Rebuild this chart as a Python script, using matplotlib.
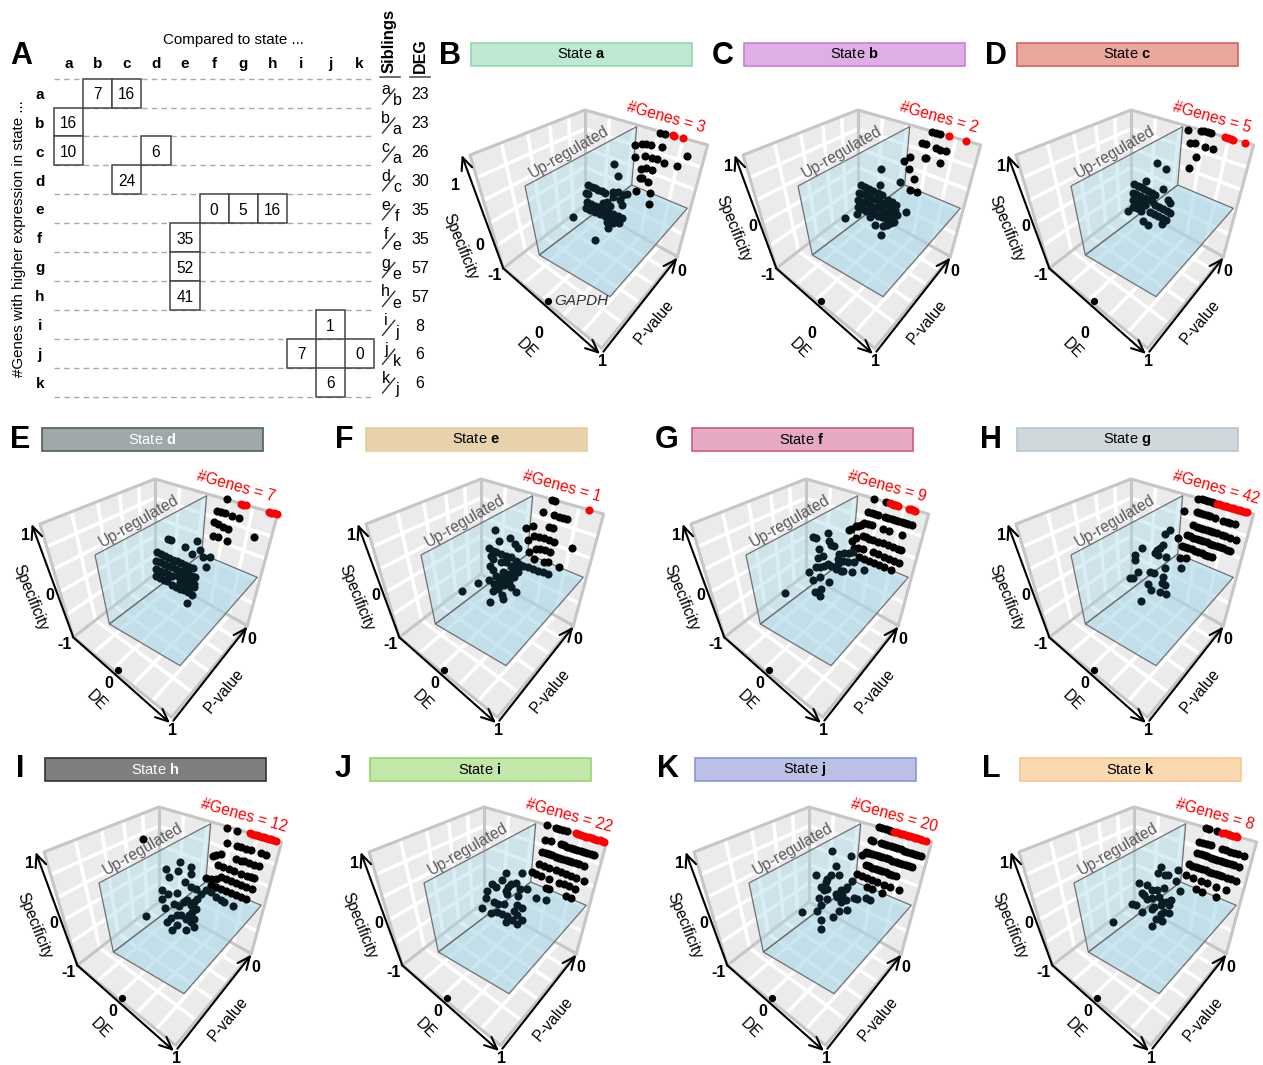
#!/usr/bin/env python3
"""Sibling-state DE table plus the eleven DE / P-value / Specificity cubes."""

import numpy as np

import matplotlib
matplotlib.use("Agg")
import matplotlib.pyplot as plt  # noqa: E402
from matplotlib.patches import Polygon, Rectangle  # noqa: E402

plt.rcParams["font.family"] = ["Liberation Sans", "DejaVu Sans"]
plt.rcParams["mathtext.fontset"] = "custom"
plt.rcParams["mathtext.rm"] = "Liberation Sans"
plt.rcParams["mathtext.bf"] = "Liberation Sans:bold"

W, H = 1263, 1065

# panel A
STATES = list("abcdefghijk")
CELL_ROW = list("aabccdeeefghijjk")
CELL_COL = list("bcaadcfgheeejikj")
CELL_VAL = [7, 16, 16, 10, 6, 24, 0, 5, 16, 35, 52, 41, 1, 7, 0, 6]
SIB_TOP = STATES
SIB_BOTTOM = list("baacfeeejkj")
DEG = [23, 23, 26, 30, 35, 35, 57, 57, 8, 6, 6]

# cube panels: points are read in panel view units (3 units = 1 pixel).
# rows sit on the P-value = 0 wall: (height of the row at x=600, [x of each gene])
GENES = [3, 2, 5, 7, 1, 9, 42, 12, 22, 20, 8]
LETTERS = list("BCDEFGHIJKL")
BAR_FACE = ["#bfe8d2", "#dfaee6", "#e9a79d", "#9ea8a8", "#e8d2ab", "#e5a9c3",
            "#cfd8db", "#7f7f7f", "#c3e7a8", "#bcc0e4", "#fbd8ae"]
BAR_EDGE = ["#93d6b0", "#c67fd6", "#d8625a", "#4d6060", "#e3cd9f", "#d4587f",
            "#b5c8ce", "#333333", "#93d66e", "#8b95d8", "#f6c88f"]
BAR_TEXT = ["black", "black", "black", "white", "black", "black",
            "black", "white", "black", "black", "black"]

RED_A = [698, 703, 730]
RED_B = [708, 760]
RED_C = [718, 726, 734, 742, 776]
RED_D = [693, 700, 708, 776, 784, 792, 800]
RED_E = [760]
RED_F = [688, 694, 700, 706, 712, 744, 750, 757, 763]
RED_G = [692, 699, 706, 713, 720, 727, 734, 741, 748, 755, 762, 769, 776, 782]
RED_H = [708, 715, 722, 729, 736, 743, 750, 757, 764, 771, 778, 785]
RED_I = [710, 718, 726, 734, 742, 750, 758, 766, 774, 782, 790, 795]
RED_J = [690, 697, 704, 711, 718, 725, 732, 739, 746, 753, 760, 767, 774, 785]
RED_K = [700, 708, 716, 724, 732, 740, 745]

ROWS_A = []
ROWS_B = []
ROWS_C = []
ROWS_D = []
ROWS_E = []
ROWS_F = [(152, [622, 632, 642, 652, 672, 682, 692, 702, 712, 722, 732, 742, 752]),
          (188, [610, 622, 634, 665, 685, 722]),
          (230, [605, 615, 625, 635, 650, 665, 680, 695, 710, 720]),
          (267, [605, 635, 650, 670, 685, 700, 715]),
          (297, [595, 610, 625, 640, 655, 670, 690])]
ROWS_G = [(108, [637, 647, 657, 667, 677, 685]),
          (150, [632, 642, 652, 662, 672, 687, 712, 722, 732, 747]),
          (192, [622, 632, 642, 652, 662, 672, 682, 692, 707, 717, 732, 750]),
          (228, [602, 612, 622, 632, 642, 652, 662, 672, 682, 692, 702, 712, 722, 732]),
          (265, [587, 597, 607, 617, 627, 637, 647, 657, 667, 677])]
ROWS_H = [(155, [640, 668, 680, 695, 710, 740, 755]),
          (193, [665, 682, 690, 705, 720, 735]),
          (231, [612, 628, 645, 660, 680, 700, 710, 720]),
          (263, [620, 635, 650, 665, 680, 695, 715]),
          (297, [590, 605, 620, 635, 650, 665, 680, 695])]
ROWS_I = [(108, [625, 650, 660, 672, 685]),
          (152, [618, 635, 665, 675, 685, 695, 705, 715, 725, 735, 745, 755, 765]),
          (192, [610, 620, 630, 640, 650, 660, 670, 680, 690, 700, 710, 720, 735]),
          (232, [600, 615, 630, 650, 665, 680, 695, 710, 735]),
          (264, [580, 590, 605, 630, 660, 675, 690, 708]),
          (295, [620, 630, 682, 695])]
ROWS_J = [(108, [645, 655, 665, 675, 682]),
          (153, [622, 628, 650, 660, 670, 680, 690, 700, 710, 720, 730, 740, 750, 760, 770]),
          (192, [605, 615, 625, 635, 645, 655, 665, 675, 685, 695, 705, 715, 725, 735, 745]),
          (233, [605, 615, 625, 635, 645, 655, 665, 675, 685, 695]),
          (270, [580, 595, 610, 625, 640, 660, 677, 705]),
          (297, [610, 625, 655])]
ROWS_K = [(108, [650, 660, 685]),
          (155, [630, 642, 655, 665, 700, 712, 724, 736, 748, 765]),
          (190, [625, 635, 645, 655, 665, 675, 685, 695, 705, 715, 725, 735, 750]),
          (232, [600, 610, 620, 630, 640, 650, 660, 670, 680, 690, 700, 715, 725]),
          (268, [590, 612, 635, 655, 680, 710]),
          (298, [622, 640, 680])]

BLACK_A = [(660, 128), (675, 132), (585, 165), (605, 163), (618, 162), (632, 165),
           (665, 172), (586, 202), (615, 198), (635, 205), (650, 208), (672, 218),
           (710, 228), (740, 197), (602, 236), (618, 235), (636, 240), (600, 265),
           (605, 265), (625, 275), (588, 303), (630, 310), (627, 341)]
BLACK_B = [(658, 125), (670, 129), (682, 133), (628, 160), (640, 163), (668, 175),
           (682, 180), (698, 184), (635, 204), (640, 205), (680, 218), (590, 200),
           (588, 237), (602, 268), (592, 300), (612, 305), (572, 212)]
BLACK_C = [(607, 120), (645, 122), (655, 124), (665, 127), (675, 130), (612, 158),
           (628, 158), (658, 170), (680, 178), (630, 201), (608, 233)]
BLACK_D = [(650, 121), (622, 155), (632, 158), (645, 163), (665, 170), (688, 178),
           (612, 190), (625, 196), (640, 203), (655, 209), (610, 230), (623, 235),
           (652, 245), (731, 234)]
BLACK_E = [(648, 122), (658, 125), (620, 158), (655, 167), (670, 173), (682, 177),
           (692, 181), (638, 203), (650, 207), (592, 202), (570, 208), (595, 232),
           (610, 235), (625, 237), (640, 243), (655, 250), (575, 244), (600, 270),
           (612, 270), (628, 273), (642, 280), (580, 278), (708, 267), (595, 300),
           (625, 308), (635, 310), (670, 323)]
BLACK_F = [(640, 120), (676, 130), (585, 202), (590, 200), (600, 198), (570, 210),
           (565, 213), (585, 236), (572, 247), (580, 268), (590, 268)]
BLACK_G = [(594, 156), (577, 236), (582, 298), (600, 298)]
BLACK_H = [(640, 123), (670, 131), (388, 155), (598, 207), (605, 203), (620, 200),
           (575, 272), (590, 275), (605, 275)]
BLACK_I = []
BLACK_J = [(595, 205), (610, 197)]
BLACK_K = [(740, 283)]

CLOUD_A = [(523, 223), (533, 257), (400, 382), (466, 450), (503, 414), (445, 285),
           (455, 290), (465, 294), (475, 299), (485, 303), (495, 308), (438, 308),
           (445, 312), (520, 305), (535, 305), (550, 315), (560, 312), (520, 322),
           (540, 330), (545, 345), (500, 335), (490, 340), (510, 348), (440, 337),
           (452, 342), (465, 347), (478, 352), (490, 358), (505, 365), (520, 372),
           (535, 378), (545, 385), (438, 355), (450, 360), (465, 365), (480, 372),
           (495, 378), (510, 385), (525, 392), (538, 398), (500, 395), (520, 400),
           (525, 385), (510, 395)]
CLOUD_B = [(504, 238), (562, 276), (502, 285), (396, 385), (578, 365), (505, 435),
           (432, 372), (445, 285), (457, 291), (469, 297), (481, 302), (495, 308),
           (507, 314), (438, 308), (450, 313), (462, 318), (474, 323), (486, 328),
           (498, 333), (510, 338), (522, 343), (436, 330), (448, 335), (460, 340),
           (472, 345), (484, 350), (496, 355), (508, 360), (520, 365), (532, 370),
           (544, 375), (435, 352), (447, 357), (459, 362), (471, 367), (483, 372),
           (495, 377), (507, 382), (519, 387), (531, 392), (543, 397), (525, 330),
           (538, 335), (550, 345), (530, 350), (545, 360), (552, 375), (487, 405),
           (510, 408), (522, 405), (535, 400), (470, 380)]
CLOUD_C = [(513, 218), (541, 236), (481, 274), (530, 297), (445, 283), (455, 288),
           (465, 292), (475, 296), (487, 303), (497, 309), (507, 315), (440, 308),
           (450, 312), (462, 318), (474, 323), (486, 328), (498, 333), (440, 330),
           (452, 335), (464, 340), (476, 345), (440, 350), (452, 355), (464, 362),
           (425, 362), (507, 345), (519, 350), (531, 356), (543, 362), (552, 370),
           (492, 366), (504, 372), (516, 378), (528, 384), (540, 390), (545, 330),
           (552, 338), (470, 392), (487, 405), (527, 402)]
CLOUD_D = [(475, 240), (482, 243), (560, 247), (525, 264), (545, 284), (570, 272),
           (578, 295), (600, 294), (588, 324), (530, 433), (440, 280), (452, 286),
           (464, 291), (476, 296), (488, 302), (500, 307), (512, 313), (524, 318),
           (536, 323), (548, 328), (438, 305), (450, 310), (462, 315), (474, 320),
           (486, 325), (498, 330), (510, 335), (522, 340), (534, 345), (546, 350),
           (556, 355), (438, 330), (450, 335), (462, 340), (474, 345), (486, 350),
           (438, 352), (450, 357), (462, 362), (470, 365), (505, 350), (518, 355),
           (530, 362), (542, 368), (553, 375), (485, 378), (497, 384), (509, 389),
           (521, 394), (533, 400), (545, 408), (553, 385), (510, 370), (525, 378),
           (540, 388)]
CLOUD_E = [(478, 213), (522, 238), (490, 247), (536, 255), (546, 267), (378, 396),
           (425, 373), (461, 429), (498, 408), (500, 420), (460, 268), (470, 275),
           (480, 280), (495, 285), (510, 290), (525, 295), (540, 305), (550, 315),
           (465, 290), (470, 300), (463, 322), (472, 332), (495, 310), (510, 310),
           (525, 320), (480, 350), (490, 365), (500, 355), (515, 345), (530, 335),
           (545, 325), (560, 320), (575, 325), (590, 330), (605, 335), (620, 340),
           (635, 345), (458, 362), (475, 375), (490, 385), (505, 378), (520, 370),
           (535, 355), (545, 340), (470, 395), (485, 390), (525, 385), (540, 400),
           (500, 340), (515, 365), (525, 350)]
CLOUD_F = [(500, 222), (503, 245), (510, 258), (520, 262), (455, 235), (465, 238),
           (475, 270), (485, 290), (472, 297), (372, 402), (443, 338), (455, 362),
           (478, 355), (503, 370), (462, 400), (470, 398), (480, 390), (478, 412),
           (535, 285), (550, 283), (565, 283), (575, 280), (530, 300), (545, 305),
           (560, 310), (580, 310), (500, 315), (510, 320), (465, 325), (478, 325),
           (490, 322), (525, 330), (540, 335), (572, 340), (610, 332), (530, 315),
           (545, 335)]
CLOUD_G = [(552, 213), (537, 225), (469, 268), (530, 258), (522, 268), (512, 273),
           (507, 283), (517, 288), (540, 293), (447, 288), (447, 303), (585, 326),
           (537, 326), (457, 340), (442, 358), (432, 358), (492, 338), (504, 341),
           (532, 353), (527, 373), (537, 378), (485, 375), (495, 393), (522, 398),
           (540, 406), (466, 426)]
CLOUD_H = [(497, 225), (456, 245), (492, 252), (532, 240), (530, 260), (466, 270),
           (514, 284), (530, 300), (545, 305), (445, 310), (463, 320), (490, 317),
           (445, 335), (396, 388), (453, 362), (480, 352), (495, 358), (460, 405),
           (470, 392), (490, 415), (473, 428), (517, 428), (575, 310), (590, 315),
           (605, 330), (620, 340), (630, 345), (658, 356), (560, 320), (550, 335),
           (540, 345), (530, 355), (520, 340), (510, 345), (545, 365), (535, 375),
           (525, 385), (540, 395), (530, 405), (540, 420), (515, 395), (500, 385),
           (490, 385)]
CLOUD_I = [(502, 257), (550, 257), (490, 280), (530, 288), (515, 292), (508, 300),
           (500, 312), (505, 320), (460, 292), (470, 300), (445, 313), (440, 332),
           (465, 345), (478, 352), (495, 352), (430, 363), (455, 377), (475, 375),
           (490, 382), (505, 388), (525, 372), (535, 355), (548, 363), (535, 385),
           (548, 398), (535, 410), (500, 405), (520, 400), (537, 327), (543, 305),
           (563, 305), (592, 333), (620, 338)]
CLOUD_J = [(505, 193), (560, 208), (517, 238), (457, 265), (500, 263), (525, 265),
           (490, 275), (485, 285), (470, 300), (480, 310), (490, 305), (565, 283),
           (545, 305), (530, 310), (515, 320), (520, 330), (530, 345), (465, 333),
           (490, 335), (470, 355), (460, 372), (413, 376), (471, 400), (508, 390),
           (525, 372), (548, 370), (470, 427), (545, 340), (570, 333), (580, 335),
           (605, 332), (618, 338), (550, 300), (535, 325)]
CLOUD_K = [(517, 240), (507, 258), (527, 265), (537, 265), (568, 248), (560, 283),
           (450, 288), (475, 295), (490, 310), (505, 310), (525, 303), (573, 312),
           (460, 318), (465, 325), (475, 335), (490, 332), (510, 330), (428, 352),
           (440, 355), (460, 375), (490, 365), (495, 360), (515, 380), (525, 375),
           (540, 378), (530, 345), (515, 355), (520, 345), (545, 340), (540, 355),
           (500, 395), (518, 403), (488, 417), (372, 406)]

REDS = [RED_A, RED_B, RED_C, RED_D, RED_E, RED_F, RED_G, RED_H, RED_I, RED_J, RED_K]
ROWS = [ROWS_A, ROWS_B, ROWS_C, ROWS_D, ROWS_E, ROWS_F, ROWS_G, ROWS_H, ROWS_I, ROWS_J, ROWS_K]
BLACKS = [BLACK_A, BLACK_B, BLACK_C, BLACK_D, BLACK_E, BLACK_F, BLACK_G, BLACK_H,
          BLACK_I, BLACK_J, BLACK_K]
CLOUDS = [CLOUD_A, CLOUD_B, CLOUD_C, CLOUD_D, CLOUD_E, CLOUD_F, CLOUD_G, CLOUD_H,
          CLOUD_I, CLOUD_J, CLOUD_K]

GAPDH = (324, 632)

# page position of each panel's view and of its title bar (pixels)
VIEW_ORIGIN = [(440, 90), (713, 90), (986, 90), (10, 459), (336, 459), (661, 459),
               (986, 459), (14, 787), (339, 787), (664, 787), (989, 787)]
BAR_ORIGIN = [(471, 43), (744, 43), (1017, 43), (42, 428), (366, 428), (692, 428),
              (1017, 428), (45, 758), (370, 758), (695, 758), (1020, 758)]
LETTER_POS = [(450, 56), (723, 56), (996, 56), (20, 440), (344, 440), (667, 440),
              (991, 440), (20, 769), (343, 769), (668, 769), (991, 769)]
# the axis labels were placed by hand per row in the source figure
SPEC_Y = [(285, 465, 470)] + [(230, 410, 417)] * 10
DE_Y = [(730, 775)] * 3 + [(673, 723)] * 8

# cube corners in view units
C_LEFT = np.array([190, 535.0])
C_LEFT_TOP = np.array([90, 195.0])
C_BACK = np.array([435, 345.0])
C_BACK_TOP = np.array([435, 60.0])
C_RIGHT = np.array([712, 500.0])
C_RIGHT_TOP = np.array([803, 165.0])
C_FRONT = np.array([485, 775.0])

PLANE_WALL = [(255, 288), (590, 110), (575, 285), (298, 495)]
PLANE_FLOOR = [(298, 495), (575, 285), (742, 355), (510, 620)]

DOT = 34


def warp(t, a=1.5):
    # perspective spacing of the grid receding from the viewer
    return t * a / (1 + (a - 1) * t)


def face(c00, c10, c01, c11, u, v):
    return (1 - v) * ((1 - u) * c00 + u * c10) + v * ((1 - u) * c01 + u * c11)


def row_points(rows):
    pts = []
    for y600, xs in rows:
        slope = 0.285 + 0.0006 * (y600 - 107)
        pts += [(x, y600 + slope * (x - 600)) for x in xs]
    return pts


def draw_cube(ax):
    walls = [(C_LEFT, C_BACK, C_LEFT_TOP, C_BACK_TOP),
             (C_BACK, C_RIGHT, C_BACK_TOP, C_RIGHT_TOP),
             (C_LEFT, C_BACK, C_FRONT, C_RIGHT)]
    for a, b, c, d in walls:
        ax.add_patch(Polygon([a, b, d, c], fc="#ebebeb", ec="none", zorder=1))
    ticks = [0.2, 0.4, 0.6, 0.8]
    grid_kw = dict(color="white", lw=2.6, zorder=2, solid_capstyle="butt")
    for t in ticks:
        # left wall
        p = warp(t)
        q = [face(*walls[0], p, 0), face(*walls[0], p, 1)]
        ax.plot(*zip(*q), **grid_kw)
        q = [face(*walls[0], 0, t), face(*walls[0], 1, t)]
        ax.plot(*zip(*q), **grid_kw)
        # right wall
        q = [face(*walls[1], t, 0), face(*walls[1], t, 1)]
        ax.plot(*zip(*q), **grid_kw)
        q = [face(*walls[1], 0, t), face(*walls[1], 1, t)]
        ax.plot(*zip(*q), **grid_kw)
        # floor
        q = [face(*walls[2], p, 0), face(*walls[2], p, 1)]
        ax.plot(*zip(*q), **grid_kw)
        q = [face(*walls[2], 0, t), face(*walls[2], 1, t)]
        ax.plot(*zip(*q), **grid_kw)
    border = [C_LEFT, C_LEFT_TOP, C_BACK_TOP, C_RIGHT_TOP, C_RIGHT, C_FRONT, C_LEFT]
    ax.plot(*zip(*border), color="#c6c6c6", lw=2.2, zorder=3)
    for a, b in [(C_BACK, C_BACK_TOP), (C_BACK, C_LEFT), (C_BACK, C_RIGHT)]:
        ax.plot([a[0], b[0]], [a[1], b[1]], color="#c6c6c6", lw=2.2, zorder=3)
    ax.add_patch(Polygon(PLANE_WALL, fc="#a8d7e9", alpha=0.42, ec="none", zorder=4))
    ax.add_patch(Polygon(PLANE_WALL, fc="none", ec="#707070", lw=0.9, zorder=5))
    ax.add_patch(Polygon(PLANE_FLOOR, fc="#a8d7e9", alpha=0.62, ec="none", zorder=4))
    ax.add_patch(Polygon(PLANE_FLOOR, fc="none", ec="#707070", lw=0.9, zorder=5))


def draw_axes_marks(ax, i):
    head = "->,head_length=0.9,head_width=0.4"
    for a, b in [((190, 535), (65, 195)), ((190, 535), (480, 792)), ((490, 785), (712, 503))]:
        ax.annotate("", xy=b, xytext=a, zorder=8,
                    arrowprops=dict(arrowstyle=head, color="black", lw=1.5,
                                    shrinkA=0, shrinkB=0))
    spec_1, spec_0, spec_lab = SPEC_Y[i]
    de_0, de_lab = DE_Y[i]
    kw = dict(fontsize=11.5, fontweight="bold", ha="center", va="center", zorder=9)
    for x, y, s in [(47, spec_1, "1"), (118, spec_0, "0"), (163, 557, "-1"),
                    (296, de_0, "0"), (488, 815, "1"), (725, 543, "0")]:
        ax.text(x, y, s, **kw)
    lab = dict(fontsize=11.2, ha="center", va="center", zorder=9)
    ax.text(62, spec_lab, "Specificity", rotation=-68, **lab)
    ax.text(260, de_lab, "DE", rotation=-45, **lab)
    ax.text(642, 695, "P-value", rotation=50, **lab)
    ax.text(278, 265, "Up-regulated", rotation=30, rotation_mode="anchor", ha="left",
            va="baseline", color="#5a5a5a", fontsize=11.2, zorder=9)


def draw_panel(fig, page, i):
    x0, y0 = VIEW_ORIGIN[i]
    ax = fig.add_axes([x0 / W, 1 - (y0 + 290) / H, 280 / W, 290 / H])
    ax.set_xlim(0, 840)
    ax.set_ylim(870, 0)
    ax.axis("off")
    ax.patch.set_alpha(0)
    draw_cube(ax)
    draw_axes_marks(ax, i)

    black = BLACKS[i] + row_points(ROWS[i])
    if black:
        ax.scatter(*zip(*black), s=DOT, c="black", linewidths=0, zorder=6, clip_on=False)
    ax.scatter(*zip(*CLOUDS[i]), s=DOT, c="#0b1d24", linewidths=0, zorder=6)
    red = row_points([(108, REDS[i])])
    ax.scatter(*zip(*red), s=DOT, c="red", linewidths=0, zorder=7, clip_on=False)
    ax.scatter(*GAPDH, s=27, c="black", linewidths=0, zorder=9)
    if i == 0:
        ax.text(342, 633, "GAPDH", style="italic", fontsize=11, color="#333333",
                va="center", zorder=9)
    ax.text(563, 50, f"#Genes = {GENES[i]}", color="red", fontsize=11.2, rotation=-15.5,
            rotation_mode="anchor", ha="left", va="center", zorder=9, clip_on=False)

    bx, by = BAR_ORIGIN[i]
    page.add_patch(Rectangle((bx, by), 221, 23, fc=BAR_FACE[i], ec=BAR_EDGE[i], lw=1.2))
    page.text(bx + 110, by + 11, rf"State $\mathbf{{{STATES[i]}}}$", color=BAR_TEXT[i],
              fontsize=10.5, ha="center", va="center")
    lx, ly = LETTER_POS[i]
    page.text(lx, ly, LETTERS[i], fontsize=22, fontweight="bold", ha="center", va="center")


def draw_table(fig):
    # one unit = one table cell
    ax = fig.add_axes([0, 0, 1, 1])
    cx, cy = 29.05, 28.9
    ax.set_xlim(-54.3 / cx, (W - 54.3) / cx)
    ax.set_ylim((H - 78.7) / cy, -78.7 / cy)
    ax.axis("off")
    ax.patch.set_alpha(0)
    n = len(STATES)
    for r in range(n + 1):
        ax.plot([0, n], [r, r], color="#aaaaaa", lw=1.0, ls=(0, (4, 3)), zorder=1)
    for row, col, val in zip(CELL_ROW, CELL_COL, CELL_VAL):
        r, c = STATES.index(row), STATES.index(col)
        ax.add_patch(Rectangle((c, r), 1, 1, fc="white", ec="#444444", lw=1.1, zorder=2))
        ax.text(c + 0.5, r + 0.56, str(val), fontsize=11.2, ha="center", va="center", zorder=3)
    for k, s in enumerate(STATES):
        ax.text(k + 0.5, -0.5, s, fontsize=11, fontweight="bold", ha="center", va="center")
        ax.text(-0.5, k + 0.56, s, fontsize=11, fontweight="bold", ha="center", va="center")
        ax.text(11.41, k + 0.38, SIB_TOP[k], fontsize=11.5, ha="center", va="center")
        ax.text(11.80, k + 0.77, SIB_BOTTOM[k], fontsize=11.5, ha="center", va="center")
        ax.plot([11.30, 11.72], [k + 0.88, k + 0.36], color="#333333", lw=1.0)
        ax.text(12.59, k + 0.56, str(DEG[k]), fontsize=11.5, ha="center", va="center")
    ax.text(6.17, -1.34, "Compared to state ...", fontsize=10.9, ha="center", va="center")
    ax.text(-1.2, 5.55, "#Genes with higher expression in state ...", fontsize=10.9,
            rotation=90, ha="center", va="center")
    ax.text(11.52, -0.2, "Siblings", fontsize=12, fontweight="bold", rotation=90,
            ha="center", va="bottom")
    ax.text(12.59, -0.2, "DEG", fontsize=11.5, fontweight="bold", rotation=90,
            ha="center", va="bottom")
    ax.plot([11.2, 11.9], [-0.05, -0.05], color="#444444", lw=1.1)
    ax.plot([12.25, 12.93], [-0.05, -0.05], color="#444444", lw=1.1)
    ax.text(-1.15, -0.78, "A", fontsize=22, fontweight="bold", ha="center", va="center")


def main():
    fig = plt.figure(figsize=(W / 100, H / 100), dpi=100, facecolor="white")
    page = fig.add_axes([0, 0, 1, 1])
    page.set_xlim(0, W)
    page.set_ylim(H, 0)
    page.axis("off")
    draw_table(fig)
    for i in range(len(LETTERS)):
        draw_panel(fig, page, i)
    fig.savefig("out.png", dpi=100)


if __name__ == "__main__":
    main()
